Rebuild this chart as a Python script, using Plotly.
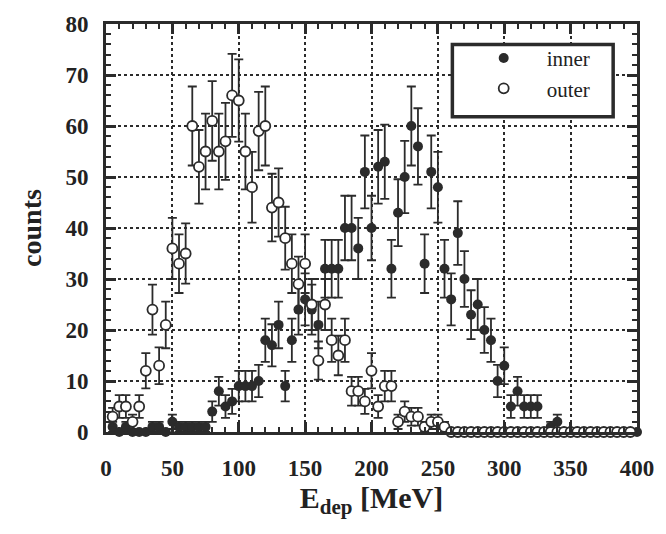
import numpy as np
import plotly.graph_objects as go

# bin centres (MeV)
energy = list(range(5, 401, 5))

inner_counts = [1, 0, 1, 0, 0, 0, 1, 1, 0, 2, 1, 1, 1, 1, 1,
                4, 8, 5, 6, 9, 9, 9, 10, 18, 17, 21, 9, 18, 24, 26, 24, 21, 32, 32, 32,
                40, 40, 36, 51, 40, 52, 53, 32, 43, 50, 60, 56, 33, 51, 48, 32, 26, 39, 30,
                23, 25, 20, 18, 10, 13, 5, 8, 5, 5, 5, 0, 1, 2,
                0, 0, 0, 0, 0, 0, 0, 0, 0, 0, 0, 0]

outer_counts = [3, 5, 5, 2, 5, 12, 24, 13, 21, 36, 33, 35, 60, 52, 55, 61, 55, 57, 66, 65,
                55, 48, 59, 60, 44, 45, 38, 33, 29, 33, 25, 14, 25, 18, 15, 18, 8, 8, 6, 12,
                5, 9, 9, 2, 4, 3, 3, 1, 2, 2, 1,
                0, 0, 0, 0, 0, 0, 0, 0, 0, 0, 0, 0, 0, 0, 0, 0, 0, 0, 0, 0, 0, 0, 0, 0, 0, 0, 0, 0]

# Poisson errors
inner_err = np.sqrt(np.array(inner_counts, dtype=float))
outer_err = np.sqrt(np.array(outer_counts, dtype=float))

INK = "#2b2b2b"
SERIF = "Liberation Serif"

fig = go.Figure()
fig.add_trace(go.Scatter(
    x=energy, y=inner_counts, mode="markers", name="inner",
    marker=dict(symbol="circle", size=10, color=INK, line=dict(width=0)),
    error_y=dict(type="data", array=inner_err, visible=True, color=INK, thickness=1.8, width=4.5),
    cliponaxis=False,
))
fig.add_trace(go.Scatter(
    x=energy, y=outer_counts, mode="markers", name="outer",
    marker=dict(symbol="circle", size=10, color="white", line=dict(width=1.8, color=INK)),
    error_y=dict(type="data", array=outer_err, visible=True, color=INK, thickness=1.8, width=4.5),
    cliponaxis=False,
))

axis_common = dict(
    showline=True, linewidth=3, linecolor=INK, mirror="allticks",
    ticks="inside", ticklen=10, tickwidth=2.5, tickcolor=INK,
    showgrid=True, gridcolor=INK, gridwidth=1.5, griddash="dot",
    zeroline=False,
    tickfont=dict(family=SERIF, size=23, color="#222", weight="bold"),
)

fig.update_xaxes(
    range=[0, 400], tick0=0, dtick=50,
    minor=dict(dtick=10, ticks="inside", ticklen=5, tickwidth=2, tickcolor=INK, showgrid=False),
    ticklabelstandoff=13,
    title=dict(text="E<sub>dep</sub> [MeV]", font=dict(family=SERIF, size=30, color="#222", weight="bold"), standoff=6),
    **axis_common,
)
fig.update_yaxes(
    range=[0, 80], tick0=0, dtick=10,
    minor=dict(dtick=2, ticks="inside", ticklen=5, tickwidth=2, tickcolor=INK, showgrid=False),
    ticklabelstandoff=10,
    title=dict(text="counts", font=dict(family=SERIF, size=28, color="#222", weight="bold"), standoff=16),
    **axis_common,
)

# legend frame
fig.add_shape(type="rect", xref="paper", yref="paper",
              x0=0.6523, x1=0.9551, y0=0.7725, y1=0.9497,
              line=dict(color=INK, width=3.5), fillcolor="white", layer="above")

fig.update_layout(
    width=666, height=534,
    margin=dict(l=106, r=25, t=15, b=102),
    paper_bgcolor="white", plot_bgcolor="white",
    showlegend=True,
    legend=dict(x=0.668, y=0.966, xanchor="left", yanchor="top",
                bgcolor="rgba(0,0,0,0)", borderwidth=0,
                font=dict(family=SERIF, size=21, color="#222"),
                itemwidth=76, tracegroupgap=0),
)

fig.write_html("out.html")
